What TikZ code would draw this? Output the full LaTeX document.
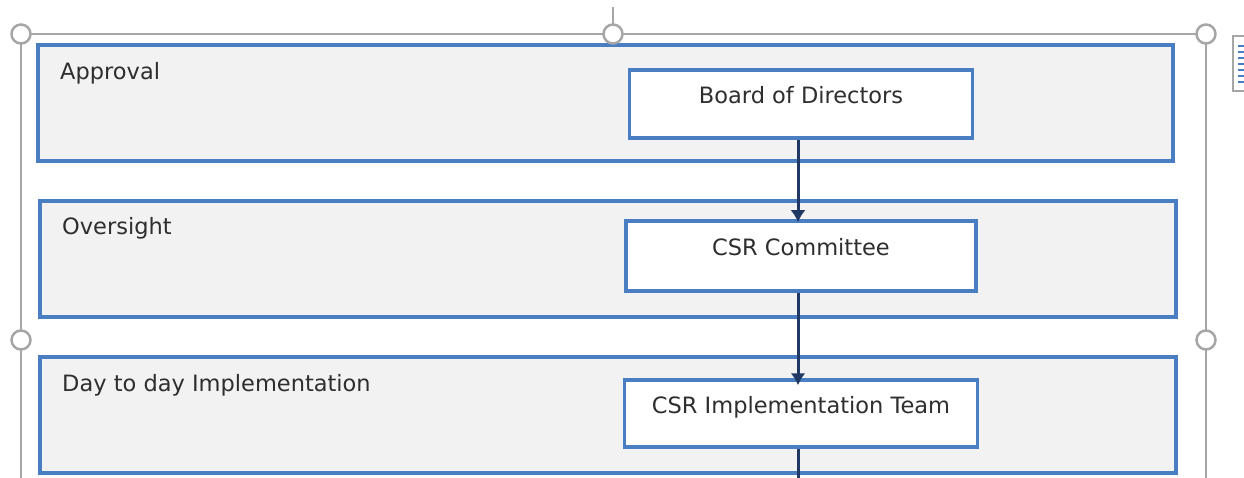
\documentclass[tikz,border=0pt]{standalone}
\usepackage{fontspec}
\setmainfont{DejaVu Sans}
\usetikzlibrary{arrows.meta}
\definecolor{laneblue}{HTML}{4A7EC2}
\definecolor{lanefill}{HTML}{F2F2F2}
\definecolor{arrownavy}{HTML}{1F3864}
\definecolor{handlegray}{HTML}{A6A6A6}
\definecolor{textgray}{HTML}{2E2E2E}
\tikzset{
	lane/.style={draw=laneblue, line width=3.5pt, fill=lanefill, inner sep=0pt},
	lanelabel/.style={anchor=base west, inner sep=0pt, text=textgray, font=\fontsize{22.5}{26}\selectfont},
	role/.style={draw=laneblue, line width=3.5pt, fill=white, inner sep=0pt,
			text height=0pt, text depth=0pt, text=textgray, font=\fontsize{22.5}{26}\selectfont},
	flow/.style={draw=arrownavy, line width=3pt, -{Latex[length=12pt,width=15pt]}},
	handle/.style={circle, draw=handlegray, line width=2.5pt, fill=white, minimum size=19pt, inner sep=0pt}
}

\begin{document}
\begin{tikzpicture}[x=1pt, y=-1pt]
        \useasboundingbox (0,0) rectangle (1244,478);

        % Selection frame
        \draw[handlegray, line width=2.5pt] (21,480) -- (21,34) -- (1206,34) -- (1206,480);
        \draw[handlegray, line width=2pt] (613,7) -- (613,34);

        % Layout options icon
        \node[draw=handlegray, line width=2pt, fill=white, minimum width=24pt, minimum height=55pt, anchor=north west, inner sep=0pt] (icon) at (1232,35) {};
        \foreach \k in {0,...,6}
                \draw[laneblue, line width=1.5pt] (1238,46+6*\k) -- (1245,46+6*\k);

        % Lanes
        \node[lane, minimum width=1135pt, minimum height=116pt] (approval) at (605.5,103) {};
        \node[lane, minimum width=1136pt, minimum height=116pt] (oversight) at (608,259) {};
        \node[lane, minimum width=1136pt, minimum height=116pt] (daily) at (608,415) {};

        % Lane labels
        \node[lanelabel] (approval_lbl) at (60,80) {Approval};
        \node[lanelabel] (oversight_lbl) at (62,235) {Oversight};
        \node[lanelabel] (daily_lbl) at (62,391) {Day to day Implementation};

        % Roles
        \node[role, minimum width=343pt, minimum height=68pt] (board) at (801,104) {Board of Directors};
        \node[role, minimum width=350pt, minimum height=70pt] (committee) at (801,256) {CSR Committee};
        \node[role, minimum width=353pt, minimum height=67pt] (team) at (801,413.5) {CSR Implementation Team};

        % Arrows
        \coordinate (team_out) at (798,480);
        \draw[flow] ([xshift=-3pt]board.south) -- ([xshift=-3pt, yshift=-3pt]committee.north);
        \draw[flow] ([xshift=-3pt]committee.south) -- ([xshift=-3pt, yshift=-7pt]team.north);
        \draw[flow, -] ([xshift=-3pt]team.south) -- (team_out);

        % Handles
        \node[handle] (h_nw) at (21,34) {};
        \node[handle] (h_n) at (613,34) {};
        \node[handle] (h_ne) at (1206,34) {};
        \node[handle] (h_w) at (21,340) {};
        \node[handle] (h_e) at (1206,340) {};
    \end{tikzpicture}
\end{document}
